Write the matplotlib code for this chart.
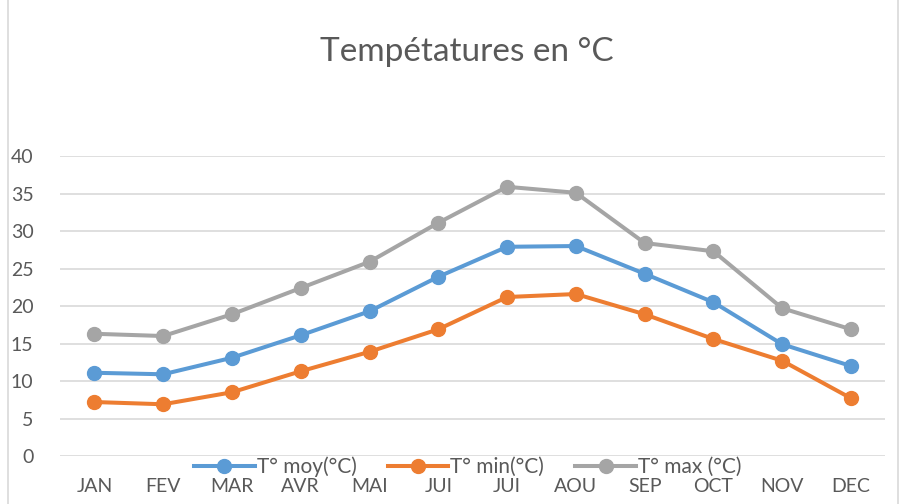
import matplotlib
matplotlib.use("Agg")
import matplotlib.pyplot as plt
from matplotlib.patches import Rectangle

months = ["JAN", "FEV", "MAR", "AVR", "MAI", "JUI", "JUI", "AOU", "SEP", "OCT", "NOV", "DEC"]
t_moy = [11.1, 10.9, 13.1, 16.1, 19.3, 23.9, 27.9, 28.0, 24.3, 20.5, 14.9, 12.0]
t_min = [7.2, 6.9, 8.5, 11.3, 13.9, 16.9, 21.2, 21.6, 18.9, 15.6, 12.7, 7.7]
t_max = [16.3, 16.0, 18.9, 22.4, 25.9, 31.1, 35.9, 35.1, 28.4, 27.3, 19.7, 16.9]
yticks = [0, 5, 10, 15, 20, 25, 30, 35, 40]

plt.rcParams['font.family'] = ['Lato', 'DejaVu Sans']
txt = '#595959'

fig = plt.figure(figsize=(9.10, 5.04), dpi=100)
ax = fig.add_axes([0.0659, 0.0952, 0.9071, 0.5952])

x = list(range(len(months)))
ax.plot(x, t_moy, color='#5B9BD5', lw=2.9, marker='o', ms=10, label='T° moy(°C)')
ax.plot(x, t_min, color='#ED7D31', lw=2.9, marker='o', ms=10, label='T° min(°C)')
ax.plot(x, t_max, color='#A5A5A5', lw=2.9, marker='o', ms=10, label='T° max (°C)')

ax.set_xlim(-0.5, len(months) - 0.5)
ax.set_ylim(0, 40)
ax.set_yticks(yticks)
ax.set_xticks(x)
ax.set_xticklabels(months)
ax.grid(axis='y', color='#d9d9d9', lw=1.2)
ax.set_axisbelow(True)
for s in ax.spines.values():
    s.set_visible(False)
ax.tick_params(length=0, labelsize=14, labelcolor=txt)
ax.tick_params(axis='x', pad=16)
ax.tick_params(axis='y', pad=19)

ax.legend(loc='center', bbox_to_anchor=(0.494, -0.035), ncol=3, frameon=False,
          fontsize=15, labelcolor=txt, handlelength=2.9, handletextpad=0.1,
          columnspacing=1.5, borderpad=0, borderaxespad=0)

fig.text(0.513, 0.897, 'Tempétatures en °C', ha='center', va='center',
         fontsize=24, color=txt)

fig.add_artist(Rectangle((0.009, -0.01), 0.978, 1.02, transform=fig.transFigure,
                         fill=False, edgecolor='#d9d9d9', lw=1.2))

fig.savefig('out.png', dpi=100)
